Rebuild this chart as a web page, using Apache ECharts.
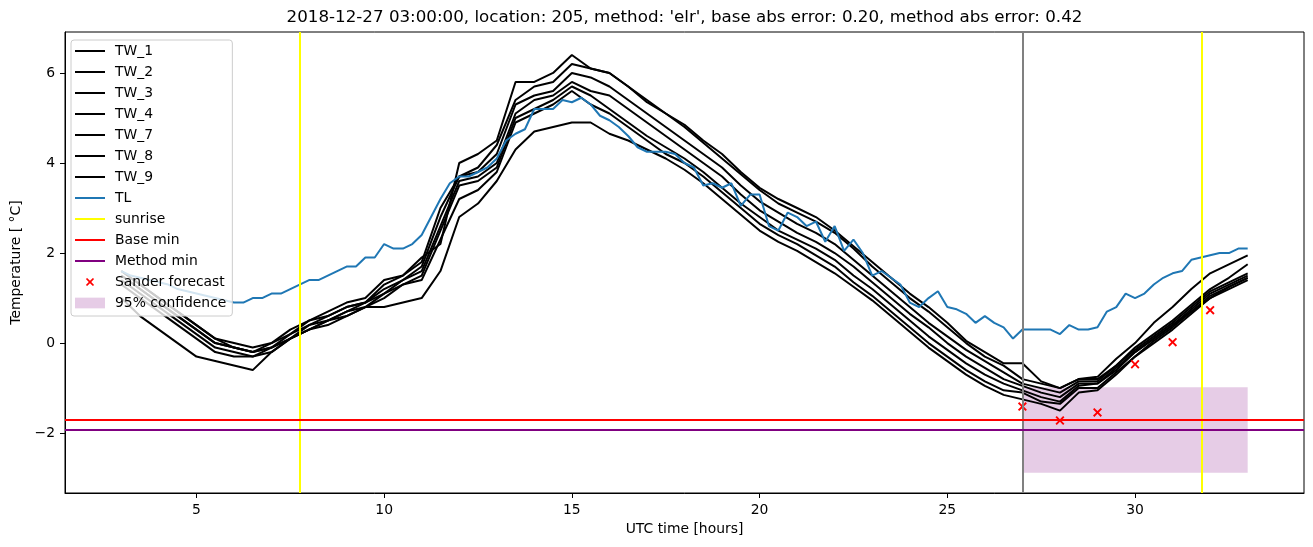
<!DOCTYPE html>
<html><head><meta charset="utf-8">
<script src="https://cdn.jsdelivr.net/npm/echarts@6/dist/echarts.min.js"></script>
<style>html,body{margin:0;padding:0;background:#fff}#c{width:1313px;height:547px}</style>
</head><body><div id="c"></div>
<script>
// ---- data ----
const twStart = 3, twStep = 0.5;   // TW sampling grid (hours)
const TW_1 = [1.6,1.3,1.0,0.7,0.4,0.1,0.0,-0.1,0.0,0.3,0.5,0.7,0.9,1.0,1.4,1.5,1.9,2.2,4.0,4.2,4.5,5.8,5.8,6.0,6.4,6.1,6.0,5.7,5.4,5.1,4.85,4.5,4.2,3.8,3.45,3.2,3.0,2.8,2.5,2.15,1.8,1.45,1.1,0.8,0.45,0.05,-0.2,-0.45,-0.45,-0.85,-1.0,-0.8,-0.75,-0.35,0.0,0.45,0.8,1.2,1.55,1.75,1.95];
const TW_2 = [1.6,1.3,1.0,0.7,0.4,0.1,-0.1,-0.2,0.0,0.2,0.5,0.6,0.8,0.9,1.3,1.5,1.8,3.0,3.7,3.9,4.4,5.4,5.7,5.8,6.2,6.1,6.0,5.7,5.35,5.1,4.8,4.45,4.1,3.75,3.4,3.1,2.9,2.7,2.45,2.1,1.7,1.35,1.0,0.7,0.35,0.0,-0.3,-0.5,-0.8,-0.9,-1.0,-0.8,-0.8,-0.5,-0.1,0.2,0.5,0.85,1.2,1.45,1.75];
const TW_3 = [1.5,1.2,0.9,0.6,0.3,0.0,-0.1,-0.2,-0.1,0.2,0.4,0.6,0.8,0.9,1.2,1.4,1.7,2.8,3.7,3.8,4.2,5.3,5.5,5.6,6.0,5.9,5.7,5.4,5.1,4.8,4.5,4.2,3.9,3.5,3.15,2.9,2.65,2.45,2.2,1.85,1.5,1.15,0.8,0.45,0.15,-0.15,-0.4,-0.65,-0.9,-1.0,-1.1,-0.85,-0.85,-0.5,-0.15,0.15,0.45,0.8,1.15,1.35,1.55];
const TW_4 = [1.5,1.2,0.9,0.6,0.3,0.0,-0.1,-0.2,-0.1,0.1,0.4,0.5,0.7,0.9,1.1,1.4,1.6,2.6,3.6,3.7,4.0,5.1,5.4,5.5,5.8,5.6,5.5,5.2,4.9,4.6,4.3,4.0,3.7,3.3,2.95,2.7,2.45,2.25,2.0,1.7,1.35,1.0,0.65,0.35,0.0,-0.3,-0.55,-0.8,-0.95,-1.1,-1.2,-0.9,-0.9,-0.55,-0.2,0.1,0.4,0.75,1.1,1.3,1.5];
const TW_7 = [1.4,1.1,0.8,0.5,0.2,-0.1,-0.2,-0.3,-0.1,0.1,0.3,0.5,0.7,0.8,1.1,1.3,1.5,2.5,3.5,3.6,3.9,5.0,5.2,5.4,5.7,5.5,5.2,4.9,4.6,4.35,4.1,3.8,3.45,3.1,2.8,2.5,2.3,2.1,1.85,1.5,1.2,0.85,0.5,0.15,-0.15,-0.45,-0.7,-0.9,-1.05,-1.2,-1.3,-0.95,-0.9,-0.6,-0.2,0.1,0.4,0.7,1.05,1.25,1.45];
const TW_8 = [1.3,1.0,0.7,0.4,0.1,-0.2,-0.3,-0.3,-0.2,0.1,0.3,0.4,0.6,0.8,1.0,1.3,1.4,2.3,3.2,3.4,3.8,4.9,5.1,5.3,5.6,5.3,5.1,4.8,4.5,4.2,4.0,3.7,3.35,3.0,2.65,2.4,2.2,1.95,1.7,1.35,1.05,0.7,0.35,0.0,-0.3,-0.6,-0.85,-1.05,-1.1,-1.3,-1.35,-1.0,-1.0,-0.65,-0.3,0.05,0.35,0.7,1.0,1.25,1.45];
const TW_9 = [1.0,0.6,0.3,0.0,-0.3,-0.4,-0.5,-0.6,-0.2,0.1,0.3,0.5,0.6,0.8,0.8,0.9,1.0,1.6,2.8,3.1,3.6,4.3,4.7,4.8,4.9,4.9,4.65,4.5,4.3,4.1,3.85,3.55,3.2,2.85,2.5,2.25,2.05,1.8,1.55,1.25,0.95,0.6,0.25,-0.1,-0.4,-0.7,-0.95,-1.15,-1.25,-1.35,-1.5,-1.1,-1.05,-0.7,-0.3,0.0,0.3,0.65,1.0,1.2,1.4];
const twNames = ['TW_1','TW_2','TW_3','TW_4','TW_7','TW_8','TW_9'];
const twValues = [TW_1, TW_2, TW_3, TW_4, TW_7, TW_8, TW_9];

const tlStart = 3, tlStep = 0.25;  // TL sampling grid (hours)
const TL = [1.6,1.5,1.45,1.4,1.35,1.3,1.2,1.15,1.1,1.05,1.0,0.95,0.9,0.9,1.0,1.0,1.1,1.1,1.2,1.3,
  1.4,1.4,1.5,1.6,1.7,1.7,1.9,1.9,2.2,2.1,2.1,2.2,2.4,2.8,3.2,3.55,3.7,3.7,3.8,3.9,
  4.1,4.5,4.65,4.75,5.2,5.2,5.2,5.4,5.35,5.45,5.3,5.05,4.95,4.8,4.6,4.35,4.25,4.25,4.25,4.2,
  4.0,3.9,3.5,3.55,3.45,3.55,3.05,3.3,3.3,2.6,2.5,2.9,2.8,2.6,2.7,2.25,2.6,2.05,2.3,2.0,
  1.5,1.6,1.45,1.3,0.9,0.8,1.0,1.15,0.8,0.75,0.65,0.45,0.6,0.45,0.35,0.1,0.3,0.3,0.3,0.3,
  0.2,0.4,0.3,0.3,0.35,0.7,0.8,1.1,1.0,1.1,1.3,1.45,1.55,1.6,1.85,1.9,1.95,2.0,2.0,2.1,2.1];

const sanderHours = [27, 28, 29, 30, 31, 32];
const sanderForecast = [-1.41, -1.72, -1.54, -0.47, 0.02, 0.73];
const sunriseHours = [7.75, 31.78];
const baseMin = -1.70;
const methodMin = -1.93;
const forecastStart = 27;
const confHours = [27, 33];
const confBounds = [-2.88, -0.98];
const xTicks = [5, 10, 15, 20, 25, 30];
const yTicks = [-2, 0, 2, 4, 6];
const titleText = "2018-12-27 03:00:00, location: 205, method: 'elr', base abs error: 0.20, method abs error: 0.42";

// ---- chart ----
const FONT = 'DejaVu Sans';
const FS = 13.9;
const pairs = (start, step, arr) => arr.map((v, i) => [start + i * step, v]);
const xPath = 'path://M0,1.5 L1.5,0 L5,3.5 L8.5,0 L10,1.5 L6.5,5 L10,8.5 L8.5,10 L5,6.5 L1.5,10 L0,8.5 L3.5,5 Z';
const xLegendPath = 'path://M-3.5,-3.5 M13.5,13.5 M0,1.5 L1.5,0 L5,3.5 L8.5,0 L10,1.5 L6.5,5 L10,8.5 L8.5,10 L5,6.5 L1.5,10 L0,8.5 L3.5,5 Z';
const rectLegendPath = 'path://M0,0 L28,0 L28,10 L0,10 Z';
const lineLegendPath = 'path://M0,0 L30,0 L30,2 L0,2 Z';
const minusFmt = v => String(v).replace('-', '\u2212');

const series = [];
series.push({
  name: '95% confidence', type: 'scatter', data: [], z: 1,
  itemStyle: { color: 'rgba(128,0,128,0.2)', opacity: 1 },
  markArea: { silent: true, itemStyle: { color: 'rgba(128,0,128,0.2)' },
    data: [[{ coord: [confHours[0], confBounds[0]] }, { coord: [confHours[1], confBounds[1]] }]] }
});
twNames.forEach((n, k) => series.push({
  name: n, type: 'line', data: pairs(twStart, twStep, twValues[k]), symbol: 'none', showSymbol: false, z: 2,
  lineStyle: { color: '#000', width: 2 }, itemStyle: { color: '#000' }, emphasis: { disabled: true }
}));
series.push({
  name: 'TL', type: 'line', data: pairs(tlStart, tlStep, TL), symbol: 'none', showSymbol: false, z: 3,
  lineStyle: { color: '#1f77b4', width: 2 }, itemStyle: { color: '#1f77b4' }, emphasis: { disabled: true }
});
series.push({
  name: 'forecast start', type: 'line', data: [], z: 3,
  markLine: { silent: true, symbol: ['none', 'none'], label: { show: false },
    lineStyle: { color: '#808080', width: 2, type: 'solid' }, data: [{ xAxis: forecastStart }] }
});
series.push({
  name: 'sunrise', type: 'line', data: [], z: 3, symbol: 'none',
  lineStyle: { color: '#ffff00', width: 2 }, itemStyle: { color: '#ffff00' },
  markLine: { silent: true, symbol: ['none', 'none'], label: { show: false },
    lineStyle: { color: '#ffff00', width: 2, type: 'solid' }, data: sunriseHours.map(h => ({ xAxis: h })) }
});
series.push({
  name: 'Base min', type: 'line', data: [], z: 3, symbol: 'none',
  lineStyle: { color: '#ff0000', width: 2 }, itemStyle: { color: '#ff0000' },
  markLine: { silent: true, symbol: ['none', 'none'], label: { show: false },
    lineStyle: { color: '#ff0000', width: 2, type: 'solid' }, data: [{ yAxis: baseMin }] }
});
series.push({
  name: 'Method min', type: 'line', data: [], z: 3, symbol: 'none',
  lineStyle: { color: '#800080', width: 2 }, itemStyle: { color: '#800080' },
  markLine: { silent: true, symbol: ['none', 'none'], label: { show: false },
    lineStyle: { color: '#800080', width: 2, type: 'solid' }, data: [{ yAxis: methodMin }] }
});
series.push({
  name: 'Sander forecast', type: 'scatter', z: 4, symbol: xPath, symbolSize: 9,
  itemStyle: { color: '#ff0000', opacity: 1 },
  data: sanderHours.map((h, i) => [h, sanderForecast[i]])
});

const lineNames = [...twNames, 'TL', 'sunrise', 'Base min', 'Method min'];
const option = {
  animation: false,
  backgroundColor: '#fff',
  title: { text: titleText, left: 684.5, top: 9, padding: 0, textAlign: 'center',
    textStyle: { fontFamily: FONT, fontSize: 16.7, fontWeight: 'normal', color: '#000' } },
  grid: { left: 65, right: 9, top: 32, bottom: 54, show: true, borderColor: '#000', borderWidth: 1, backgroundColor: 'transparent' },
  xAxis: {
    type: 'value', min: 1.5, max: 34.5,
    name: 'UTC time [hours]', nameLocation: 'middle', nameGap: 28,
    nameTextStyle: { fontFamily: FONT, fontSize: FS, color: '#000' },
    axisLine: { show: true, onZero: false, lineStyle: { color: '#000', width: 1 } },
    axisTick: { show: true, length: 5, customValues: xTicks, lineStyle: { color: '#000' } },
    axisLabel: { customValues: xTicks, margin: 10, fontFamily: FONT, fontSize: FS, color: '#000' },
    splitLine: { show: false }
  },
  yAxis: {
    type: 'value', min: -3.33, max: 6.91,
    name: 'Temperature [ °C]', nameLocation: 'middle', nameGap: 39, nameRotate: 90,
    nameTextStyle: { fontFamily: FONT, fontSize: FS, color: '#000' },
    axisLine: { show: true, onZero: false, lineStyle: { color: '#000', width: 1 } },
    axisTick: { show: true, length: 5, customValues: yTicks, lineStyle: { color: '#000' } },
    axisLabel: { customValues: yTicks, margin: 10, fontFamily: FONT, fontSize: FS, color: '#000', formatter: minusFmt },
    splitLine: { show: false }
  },
  legend: {
    orient: 'vertical', left: 71, top: 40, z: 10, selectedMode: false,
    padding: [4, 6, 6, 4], itemWidth: 30, itemHeight: 14, itemGap: 7,
    backgroundColor: 'rgba(255,255,255,0.8)', borderColor: '#cccccc', borderWidth: 1, borderRadius: 3,
    textStyle: { fontFamily: FONT, fontSize: FS, color: '#000', padding: [0, 0, 0, 5], lineHeight: 14 },
    data: [...lineNames.map(n => ({ name: n, icon: lineLegendPath })),
      { name: 'Sander forecast', icon: xLegendPath },
      { name: '95% confidence', icon: rectLegendPath }]
  },
  series
};
const chart = echarts.init(document.getElementById('c'), null, { renderer: 'canvas' });
chart.setOption(option);
</script>
</body></html>
